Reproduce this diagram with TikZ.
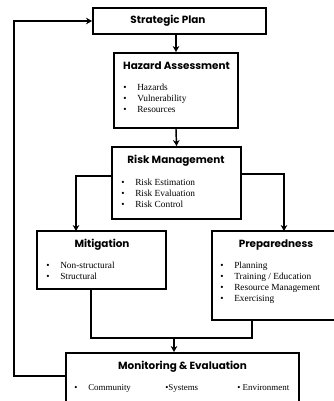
\documentclass[tikz,border=0pt]{standalone}
\usepackage{fontspec}
\setmainfont{Liberation Serif}
\newfontfamily\headfont{Poppins}
\usetikzlibrary{arrows.meta,fit,positioning}

\newcommand{\itemdot}{\makebox[10.5pt][l]{\textbullet}}

\begin{document}
\begin{tikzpicture}[
    x=0.75pt, y=-0.75pt,
    box/.style={rectangle, draw, line width=1.5pt, inner sep=0pt},
    head/.style={font=\headfont\bfseries\fontsize{7.8}{9}\selectfont},
    item/.style={anchor=base west, inner sep=0pt, font=\fontsize{7}{8}\selectfont},
    line/.style={line width=1.1pt},
    arrow/.style={line, -{Stealth[length=4.5pt,width=5pt]}}
]
\useasboundingbox (0,0) rectangle (334,401);

% Boxes
\node[box, fit={(93,8) (266,34)}] (plan) {};
\node[box, fit={(114,53) (238,128)}] (hazard) {};
\node[box, fit={(112,147) (241,219)}] (risk) {};
\node[box, fit={(37,231) (166,289)}] (mitig) {};
\node[box, fit={(212,231) (345,320)}] (prep) {};
\node[box, fit={(66,353) (299,412)}] (monitor) {};

% Titles
\node[head] (planT) at (168,21) {Strategic Plan};
\node[head] (hazardT) at (176.5,66) {Hazard Assessment};
\node[head] (riskT) at (176,161) {Risk Management};
\node[head] (mitigT) at (102,245) {Mitigation};
\node[head] (prepT) at (276,245) {Preparedness};
\node[head] (monitorT) at (182.5,367) {Monitoring \& Evaluation};

% Bullet items
\node[item] (haz1) at (123,90) {\itemdot Hazards};
\node[item] (haz2) at (123,101) {\itemdot Vulnerability};
\node[item] (haz3) at (123,112) {\itemdot Resources};

\node[item] (risk1) at (121,185) {\itemdot Risk Estimation};
\node[item] (risk2) at (121,196) {\itemdot Risk Evaluation};
\node[item] (risk3) at (121,207) {\itemdot Risk Control};

\node[item] (mit1) at (46,268) {\itemdot Non-structural};
\node[item] (mit2) at (46,279) {\itemdot Structural};

\node[item] (prep1) at (220,268) {\itemdot Planning};
\node[item] (prep2) at (220,279) {\itemdot Training / Education};
\node[item] (prep3) at (220,290) {\itemdot Resource Management};
\node[item] (prep4) at (220,301) {\itemdot Exercising};

\node[item, font=\fontsize{6.7}{8}\selectfont] (mon1) at (74,390) {\itemdot Community};
\node[item, font=\fontsize{6.7}{8}\selectfont] (mon2) at (165,390) {\textbullet{}Systems};
\node[item, font=\fontsize{6.7}{8}\selectfont] (mon3) at (237,390) {\textbullet{} Environment};

% Turning points
\coordinate (riskL) at (112,176);
\coordinate (mitIn) at (76,231);
\coordinate (riskR) at (241,174);
\coordinate (prepIn) at (284,231);
\coordinate (mitOut) at (91,289);
\coordinate (prepOut) at (252,320);
\coordinate (join) at (174,338);
\coordinate (monOut) at (66,376);
\coordinate (loop) at (14,376);

% Arrows
\draw[arrow] (hazard.north |- plan.south) -- (hazard.north);
\draw[arrow] (hazard.south) -- (risk.north);
\draw[arrow] (riskL) -| (mitIn);
\draw[arrow] (riskR) -| (prepIn);
\draw[line] (mitOut) |- (join) -| (prepOut);
\draw[arrow] (join) -- (join |- monitor.north);
\draw[arrow] (monOut) -- (loop) |- (plan.west);

\end{tikzpicture}
\end{document}
